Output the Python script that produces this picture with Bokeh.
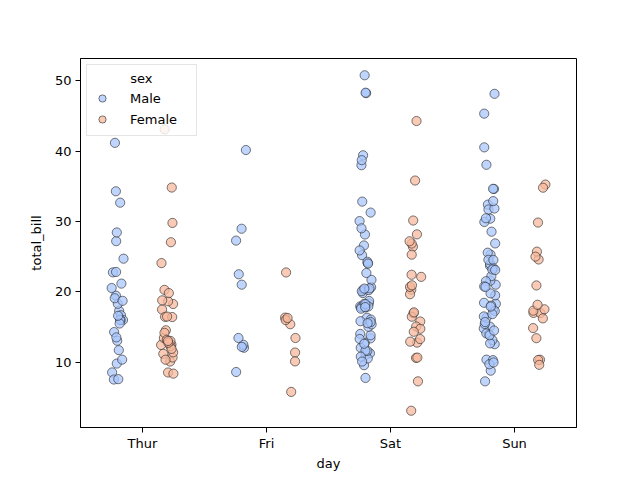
from bokeh.plotting import figure
from bokeh.models import ColumnDataSource, Range1d, FixedTicker, Legend, LegendItem
from bokeh.transform import jitter
from bokeh.embed import file_html
from bokeh.resources import INLINE

days = ["Thur", "Fri", "Sat", "Sun"]
sexes = ["Male", "Female"]

thur_male = [27.20, 22.76, 17.29, 19.44, 16.66, 32.68, 15.98, 13.03, 18.28, 24.71,
             21.16, 11.69, 14.26, 15.95, 8.52, 22.82, 19.08, 16.00, 34.30, 41.19,
             9.78, 7.51, 28.44, 15.48, 16.58, 7.56, 10.34, 13.51, 18.71, 20.53]
thur_female = [10.07, 34.83, 10.65, 12.43, 24.08, 13.42, 12.48, 29.80, 14.52, 11.38,
               20.27, 11.17, 12.26, 18.26, 8.51, 10.33, 14.15, 13.16, 17.47, 27.05,
               16.43, 8.35, 18.64, 11.87, 19.81, 43.11, 13.00, 12.74, 13.00, 16.40,
               16.47, 18.78]
fri_male = [28.97, 22.49, 40.17, 27.28, 12.03, 21.01, 12.46, 12.16, 8.58, 13.42]
fri_female = [5.75, 16.32, 22.75, 11.35, 15.38, 13.42, 15.98, 16.27, 10.09]
sat_male = [20.65, 17.92, 39.42, 19.82, 17.81, 13.37, 12.69, 21.70, 9.55, 18.35,
            17.78, 24.06, 16.31, 18.69, 31.27, 16.04, 38.01, 11.24, 48.27, 20.29,
            13.81, 11.02, 18.29, 17.59, 20.08, 20.23, 15.01, 12.02, 10.51, 17.92,
            15.36, 20.49, 25.21, 18.24, 14.00, 50.81, 15.81, 26.59, 38.73, 24.27,
            30.06, 25.89, 48.33, 28.15, 11.59, 7.74, 20.45, 13.28, 24.01, 15.69,
            11.61, 10.77, 15.53, 10.07, 12.60, 32.83, 29.03, 22.67, 17.82]
sat_female = [20.29, 15.77, 19.65, 15.06, 20.69, 16.93, 26.41, 16.45, 3.07, 17.07,
              26.86, 25.28, 14.73, 44.30, 22.42, 20.92, 14.31, 7.25, 10.59, 10.63,
              12.76, 13.27, 28.17, 12.90, 30.14, 22.12, 35.83, 27.18]
sun_male = [10.34, 21.01, 23.68, 25.29, 8.77, 26.88, 15.04, 14.78, 10.27, 15.42,
            18.43, 21.58, 16.29, 17.46, 13.94, 9.68, 30.40, 18.29, 22.23, 32.40,
            28.55, 18.04, 12.54, 9.94, 25.56, 19.49, 38.07, 23.95, 29.93, 14.07,
            13.13, 17.26, 24.55, 19.77, 48.17, 16.49, 21.50, 12.66, 13.81, 24.52,
            20.76, 31.71, 7.25, 31.85, 16.82, 32.90, 17.89, 14.48, 34.63, 34.65,
            23.33, 45.35, 23.17, 40.55, 20.69, 30.46, 23.10, 15.69]
sun_female = [16.99, 24.59, 35.26, 14.83, 10.33, 16.97, 10.29, 34.81, 25.71, 17.31,
              29.85, 25.00, 13.39, 16.21, 17.51, 9.60, 20.90, 18.15]

groups = {
    ("Thur", "Male"): thur_male, ("Thur", "Female"): thur_female,
    ("Fri", "Male"): fri_male, ("Fri", "Female"): fri_female,
    ("Sat", "Male"): sat_male, ("Sat", "Female"): sat_female,
    ("Sun", "Male"): sun_male, ("Sun", "Female"): sun_female,
}

colors = {"Male": "#aac7fd", "Female": "#f7b89c"}
dodge_off = {"Male": -0.2, "Female": 0.2}

all_vals = [v for vals in groups.values() for v in vals]
lo, hi = min(all_vals), max(all_vals)
pad = 0.05 * (hi - lo)

p = figure(output_backend="svg", toolbar_location=None,
           frame_width=496, frame_height=369,
           min_border_left=80, min_border_right=48,
           min_border_top=58, min_border_bottom=41,
           x_range=Range1d(-0.5, 3.5), y_range=Range1d(lo - pad, hi + pad))
p.background_fill_color = "white"
p.border_fill_color = "white"
p.outline_line_color = "black"
p.outline_line_width = 1
p.xgrid.visible = False
p.ygrid.visible = False

renderers = {}
for sex in sexes:
    xs, ys = [], []
    for i, d in enumerate(days):
        vals = groups[(d, sex)]
        xs += [i + dodge_off[sex]] * len(vals)
        ys += vals
    src = ColumnDataSource(dict(x=xs, y=ys))
    r = p.scatter(x=jitter("x", width=0.1, distribution="uniform"), y="y", source=src,
                  size=9.2, marker="circle",
                  fill_color=colors[sex], fill_alpha=0.75,
                  line_color="#222222", line_alpha=0.75, line_width=0.8)
    renderers[sex] = r

legend = Legend(items=[LegendItem(label=s, renderers=[renderers[s]]) for s in sexes],
                location="top_left", title="\u00a0" * 9 + "sex")
legend.title_text_font_style = "normal"
legend.title_text_font = "DejaVu Sans"
legend.title_text_font_size = "13px"
legend.title_text_color = "black"
legend.title_standoff = 2
legend.label_text_font = "DejaVu Sans"
legend.label_text_font_size = "13px"
legend.label_text_color = "black"
legend.label_standoff = 19
legend.label_width = 60
legend.glyph_width = 18
legend.glyph_height = 20
legend.spacing = 1
legend.padding = 6
legend.margin = 6
legend.border_line_color = "#cccccc"
legend.border_line_width = 1
legend.background_fill_alpha = 0.8
p.add_layout(legend)

p.xaxis.ticker = FixedTicker(ticks=[0, 1, 2, 3])
p.xaxis.major_label_overrides = {i: d for i, d in enumerate(days)}
p.yaxis.ticker = FixedTicker(ticks=[10, 20, 30, 40, 50])
p.xaxis.axis_label = "day"
p.yaxis.axis_label = "total_bill"
for ax in (p.xaxis, p.yaxis):
    ax.axis_label_text_font = "DejaVu Sans"
    ax.axis_label_text_font_size = "13px"
    ax.axis_label_text_font_style = "normal"
    ax.major_label_text_font = "DejaVu Sans"
    ax.major_label_text_font_size = "13px"
    ax.major_tick_in = 0
    ax.major_tick_out = 5
    ax.minor_tick_in = 0
    ax.minor_tick_out = 0
    ax.axis_line_color = "black"
    ax.major_tick_line_color = "black"
    ax.major_label_text_color = "black"
    ax.axis_label_text_color = "black"
p.xaxis.axis_label_standoff = 2
p.yaxis.axis_label_standoff = 8
p.xaxis.major_label_standoff = 3
p.yaxis.major_label_standoff = 4

open("out.html", "w").write(file_html(p, INLINE))
